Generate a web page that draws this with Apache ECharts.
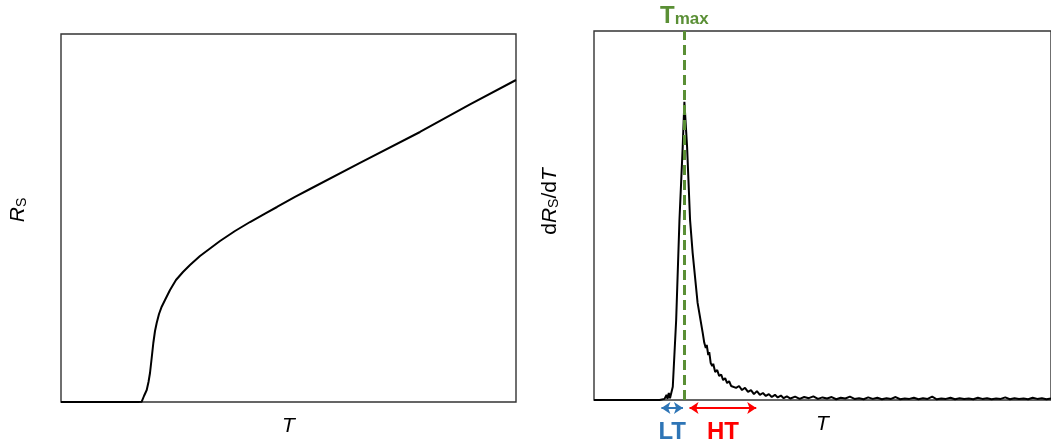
<!DOCTYPE html>
<html>
<head>
<meta charset="utf-8">
<script src="https://cdn.jsdelivr.net/npm/echarts@6/dist/echarts.min.js"></script>
<style>
  html, body { margin: 0; background: #fff; }
  #chart { width: 1051px; height: 446px; }
</style>
</head>
<body>
<div id="chart"></div>
<script>
// Left panel: R_S vs T
const leftT  = [0, 15.2, 16.9, 17.74, 18.24, 18.84, 19.23, 19.56, 19.93, 20.29, 20.66, 21.03, 21.54, 22.13, 22.86,
  23.96, 25.27, 26.81, 28.35, 30.55, 32.75, 34.95, 38.24, 41.54, 44.84, 47.47, 51.43, 54.73, 65.71, 78.9, 89.89, 100];
const leftRs = [0, 0, 0, 0.08, 1.63, 3.26, 5.43, 7.88, 11.96, 16.03, 19.29, 21.47, 23.91, 25.9, 27.72,
  30.43, 33.15, 35.33, 37.23, 39.67, 41.71, 43.75, 46.47, 48.91, 51.22, 52.99, 55.71, 57.88, 64.95, 73.37, 80.87, 87.5];

// Right panel: dR_S/dT vs T
const rightT = [0, 14.35, 15.43, 15.87, 16.09, 16.37, 16.63, 17.02, 17.24, 17.98,
  18.70, 19.41, 19.78, 20.37, 21.02, 21.59, 22.67, 23.76, 24.13, 24.46,
  24.67, 25.0, 25.22, 25.54, 25.87, 26.09, 26.52, 26.96, 27.39, 27.83,
  28.26, 28.70, 29.13, 29.57, 30.0, 30.43, 31.09, 31.74, 32.39, 33.04,
  33.7, 34.35, 35.0, 35.65, 36.3, 36.96, 37.6, 38.26, 38.9, 39.6,
  40.2, 40.9, 41.5, 42.2,
  43, 44, 45, 46, 47, 48, 49, 50, 51, 52, 53, 54, 55, 56, 57, 58, 59, 60, 61, 62,
  63, 64, 65, 66, 67, 68, 69, 70, 71, 72, 73, 74, 75, 76, 77, 78, 79, 80, 81, 82,
  83, 84, 85, 86, 87, 88, 89, 90, 91, 92, 93, 94, 95, 96, 97, 98, 99, 100];
const rightD = [0, 0, 0.3, 1.4, 0.3, 1.9, 0.5, 0.5, 3.6, 21.7,
  48.8, 68.6, 80.8, 68.6, 48.8, 39.8, 26.3, 18.4, 15.5, 14.1,
  14.9, 12.2, 13.0, 10.0, 9.2, 9.8, 7.6, 8.1, 6.5, 6.9,
  5.4, 5.9, 4.6, 5.1, 3.8, 4.3, 3.3, 3.8, 2.7, 3.3,
  2.2, 2.7, 1.6, 2.4, 1.4, 1.9, 1.1, 1.6, 0.8, 1.4,
  0.7, 1.2, 0.5, 1.0,
  0.4, 0.9, 0.3, 0.8, 0.5, 1.0, 0.3, 0.7, 0.4, 0.8, 0.2, 0.6, 0.4, 0.9, 0.3, 0.5, 0.2, 0.7, 0.3, 0.6,
  0.2, 0.5, 0.3, 0.8, 0.2, 0.4, 0.3, 0.6, 0.2, 0.5, 0.3, 0.9, 0.2, 0.4, 0.3, 0.6, 0.2, 0.5, 0.3, 0.4,
  0.2, 0.6, 0.3, 0.5, 0.2, 0.4, 0.3, 0.7, 0.2, 0.5, 0.3, 0.4, 0.2, 0.6, 0.3, 0.5, 0.2, 0.4];

const tMax = 19.78;
const ltRange = [14.75, 19.46];
const htRange = [20.9, 35.5];

const FONT = 'Liberation Sans, Arial, sans-serif';
const zip = (xs, ys) => xs.map((x, i) => [x, ys[i]]);

const chart = echarts.init(document.getElementById('chart'));

const hiddenAxis = {
    type: 'value',
    axisLine: { show: false },
    axisTick: { show: false },
    axisLabel: { show: false },
    splitLine: { show: false }
};

const tName = {
    name: 'T',
    nameLocation: 'middle',
    nameGap: 14,
    nameTextStyle: { fontFamily: FONT, fontStyle: 'italic', fontSize: 21, color: '#000' }
};

const option = {
    animation: false,
    backgroundColor: '#fff',
    grid: [
        { left: 61, top: 34, width: 455, height: 368, show: true, borderColor: '#333', borderWidth: 1.4 },
        { left: 594, top: 31, width: 460, height: 369, show: true, borderColor: '#333', borderWidth: 1.4 },
        { left: 594, top: 402, width: 460, height: 12 }
    ],
    xAxis: [
        Object.assign({ gridIndex: 0, min: 0, max: 100 }, hiddenAxis, tName),
        Object.assign({ gridIndex: 1, min: 0, max: 100 }, hiddenAxis, tName),
        Object.assign({ gridIndex: 2, min: 0, max: 100 }, hiddenAxis)
    ],
    yAxis: [
        Object.assign({ gridIndex: 0, min: 0, max: 100 }, hiddenAxis, {
            name: '{i|R}{s|S}',
            nameLocation: 'middle',
            nameRotate: 90,
            nameGap: 32,
            nameTextStyle: {
                padding: [0, 0, 0, 16],
                rich: {
                    i: { fontFamily: FONT, fontStyle: 'italic', fontSize: 21, color: '#000', lineHeight: 24, verticalAlign: 'bottom' },
                    s: { fontFamily: FONT, fontSize: 14, color: '#000', lineHeight: 16, verticalAlign: 'bottom' }
                }
            }
        }),
        Object.assign({ gridIndex: 1, min: 0, max: 100 }, hiddenAxis, {
            name: '{n|d}{i|R}{s|S}{n|/d}{i|T}',
            nameLocation: 'middle',
            nameRotate: 90,
            nameGap: 33,
            nameTextStyle: {
                padding: [0, 0, 0, 28],
                rich: {
                    n: { fontFamily: FONT, fontSize: 21, color: '#000', lineHeight: 24, verticalAlign: 'bottom' },
                    i: { fontFamily: FONT, fontStyle: 'italic', fontSize: 21, color: '#000', lineHeight: 24, verticalAlign: 'bottom' },
                    s: { fontFamily: FONT, fontSize: 14, color: '#000', lineHeight: 14, verticalAlign: 'bottom' }
                }
            }
        }),
        Object.assign({ gridIndex: 2, min: 0, max: 1 }, hiddenAxis)
    ],
    series: [
        {
            type: 'line',
            xAxisIndex: 0,
            yAxisIndex: 0,
            data: zip(leftT, leftRs),
            symbol: 'none',
            lineStyle: { color: '#000', width: 2 }
        },
        {
            type: 'line',
            xAxisIndex: 1,
            yAxisIndex: 1,
            data: zip(rightT, rightD),
            symbol: 'none',
            lineStyle: { color: '#000', width: 2 },
            markLine: {
                silent: true,
                symbol: 'none',
                lineStyle: { color: '#5a8f35', width: 3, type: [10, 5] },
                label: {
                    show: true,
                    position: 'end',
                    distance: 3,
                    formatter: '{t|T}{s|max}',
                    rich: {
                        t: { fontFamily: FONT, fontWeight: 'bold', fontSize: 24, color: '#5a8f35', lineHeight: 24, verticalAlign: 'bottom' },
                        s: { fontFamily: FONT, fontWeight: 'bold', fontSize: 17, color: '#5a8f35', lineHeight: 12, verticalAlign: 'bottom' }
                    }
                },
                data: [{ xAxis: tMax }]
            }
        },
        {
            type: 'line',
            xAxisIndex: 2,
            yAxisIndex: 2,
            data: [],
            markLine: {
                silent: true,
                symbol: ['arrow', 'arrow'],
                symbolSize: 9,
                data: [
                    [
                        { coord: [ltRange[0], 0.5], lineStyle: { color: '#2e75b6', width: 2, type: 'solid' },
                          label: { show: true, formatter: 'LT', position: 'insideMiddleBottom', distance: 12,
                                   fontFamily: FONT, fontWeight: 'bold', fontSize: 24, color: '#2e75b6' } },
                        { coord: [ltRange[1], 0.5] }
                    ],
                    [
                        { coord: [htRange[0], 0.5], lineStyle: { color: '#ff0000', width: 2, type: 'solid' },
                          label: { show: true, formatter: 'HT', position: 'insideMiddleBottom', distance: 12,
                                   fontFamily: FONT, fontWeight: 'bold', fontSize: 24, color: '#ff0000' } },
                        { coord: [htRange[1], 0.5] }
                    ]
                ]
            }
        }
    ]
};

chart.setOption(option);
window.addEventListener('resize', () => chart.resize());
</script>
</body>
</html>
